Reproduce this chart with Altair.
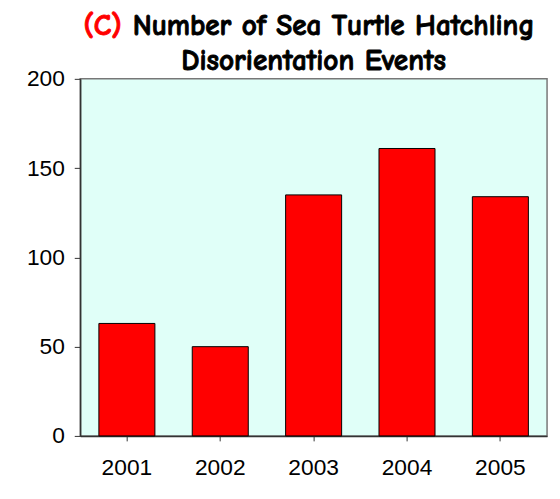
import altair as alt
import pandas as pd

years = ["2001", "2002", "2003", "2004", "2005"]
events = [63, 50, 135, 161, 134]
y_ticks = [0, 50, 100, 150, 200]
title_tag = "(C)"
title_line1 = "Number of Sea Turtle Hatchling"
title_line2 = "Disorientation Events"

df = pd.DataFrame({"year": years, "events": events})

W, H = 472, 361
TFONT = "Comic Sans MS, Comic Neue, Lato"
TSIZE = 29.5

bars = alt.Chart(df).mark_bar(color="#ff0000", stroke="#000000", strokeWidth=1).encode(
    x=alt.X("year:N", sort=years, title=None,
            scale=alt.Scale(paddingInner=0.4, paddingOuter=0.2),
            axis=alt.Axis(labelAngle=0, labelFont="Liberation Sans", labelFontSize=23,
                          labelColor="#000000", labelPadding=16, tickSize=5,
                          tickColor="#333333", domainColor="#333333", domainWidth=1.5)),
    y=alt.Y("events:Q", title=None,
            scale=alt.Scale(domain=[0, 200], nice=False),
            axis=alt.Axis(values=y_ticks, grid=False, labelFont="Liberation Sans",
                          labelFontSize=23, labelColor="#000000", labelPadding=10,
                          tickSize=6, tickColor="#333333", domainColor="#333333",
                          domainWidth=1.5)),
)

tag = alt.Chart(pd.DataFrame({"t": [title_tag]})).mark_text(
    font=TFONT, fontSize=TSIZE, fontWeight="bold", color="#ff0000", align="right",
    stroke="#ff0000", strokeWidth=0.9,
    baseline="middle").encode(x=alt.value(42), y=alt.value(-53), text="t:N")
line1 = alt.Chart(pd.DataFrame({"t": [title_line1]})).mark_text(
    font=TFONT, fontSize=TSIZE, fontWeight="bold", color="#000000", align="left",
    stroke="#000000", strokeWidth=0.9,
    baseline="middle").encode(x=alt.value(53), y=alt.value(-53), text="t:N")
line2 = alt.Chart(pd.DataFrame({"t": [title_line2]})).mark_text(
    font=TFONT, fontSize=TSIZE, fontWeight="bold", color="#000000", align="center",
    stroke="#000000", strokeWidth=0.9,
    baseline="middle").encode(x=alt.value(W / 2), y=alt.value(-18), text="t:N")

chart = alt.layer(bars, tag, line1, line2).properties(
    width=W, height=H, padding={"left": 18, "top": 1, "right": 5, "bottom": 5},
    background="#ffffff",
).configure_view(fill="#e0fff8", stroke="#777777", strokeWidth=1.5)

chart.save("out.html", embed_options={"renderer": "svg", "actions": False})
